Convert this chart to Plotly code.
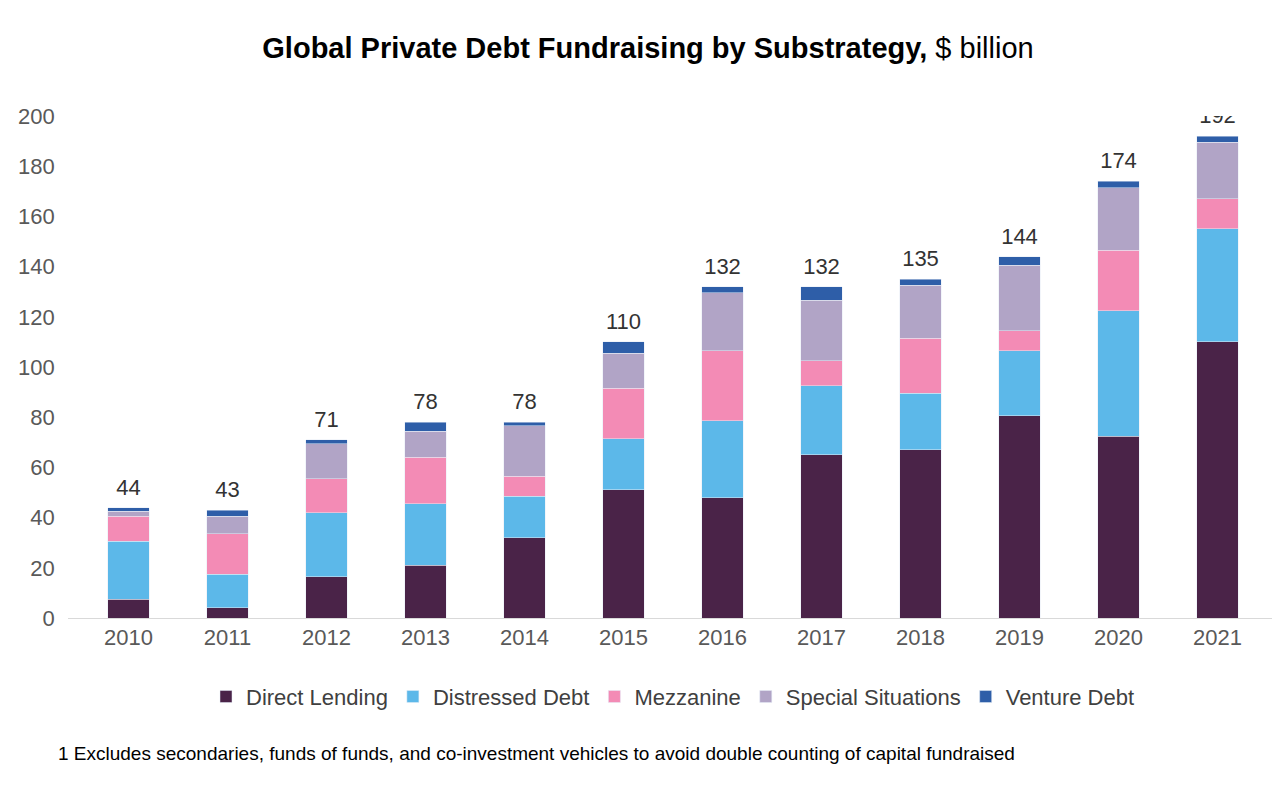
import plotly.graph_objects as go

years = ["2010", "2011", "2012", "2013", "2014", "2015", "2016", "2017", "2018", "2019", "2020", "2021"]
direct_lending = [7.5, 4, 16.5, 21, 32, 51, 48, 65, 67, 80.5, 72.5, 110]
distressed_debt = [23, 13.5, 25.5, 24.5, 16.5, 20.5, 30.5, 27.5, 22.5, 26, 50, 45]
mezzanine = [10, 16, 13.5, 18.5, 8, 20, 28, 10, 22, 8, 24, 12]
special_situations = [2, 7, 14, 10.5, 20, 14, 23, 24, 21, 26, 25, 22.5]
venture_debt = [1.5, 2.5, 1.5, 3.5, 1.5, 4.5, 2.5, 5.5, 2.5, 3.5, 2.5, 2.5]
totals = [44, 43, 71, 78, 78, 110, 132, 132, 135, 144, 174, 192]

series = [
    ("Direct Lending", direct_lending, "#4a2348"),
    ("Distressed Debt", distressed_debt, "#5cb8e9"),
    ("Mezzanine", mezzanine, "#f38bb5"),
    ("Special Situations", special_situations, "#b1a4c6"),
    ("Venture Debt", venture_debt, "#2e5ea8"),
]

fig = go.Figure()
for name, vals, col in series:
    fig.add_trace(go.Bar(x=years, y=vals, name=name, marker_color=col, width=0.42))

# total labels above each stack
fig.add_trace(go.Scatter(
    x=years, y=[t + 3 for t in totals], mode="text", text=[str(t) for t in totals],
    textposition="top center", textfont=dict(size=22, color="#333333"),
    showlegend=False, hoverinfo="skip",
))

fig.update_layout(
    barmode="stack",
    width=1280, height=805,
    plot_bgcolor="white", paper_bgcolor="white",
    font=dict(family="Liberation Sans, Arial", size=22, color="#595959"),
    title=dict(text="<b>Global Private Debt Fundraising by Substrategy,</b> $ billion",
               x=0.5, y=0.95, yanchor="middle", font=dict(size=29, color="black")),
    margin=dict(l=55, r=10, t=108, b=195),
    legend=dict(orientation="h", x=0.5, xanchor="center", y=-0.115, yanchor="top",
                font=dict(size=22, color="#404040"), traceorder="normal"),
    xaxis=dict(showline=True, linecolor="#d9d9d9", ticks="", tickfont=dict(size=22)),
    yaxis=dict(range=[0, 200], dtick=20, showgrid=False, showline=False,
               tickfont=dict(size=22), ticksuffix="  "),
    bargap=0.58,
)

fig.add_annotation(
    text="1 Excludes secondaries, funds of funds, and co-investment vehicles to avoid double counting of capital fundraised",
    xref="paper", yref="paper", x=-0.01, y=-0.245, xanchor="left", yanchor="top",
    showarrow=False, font=dict(size=19, color="black"),
)

fig.write_html("out.html")
